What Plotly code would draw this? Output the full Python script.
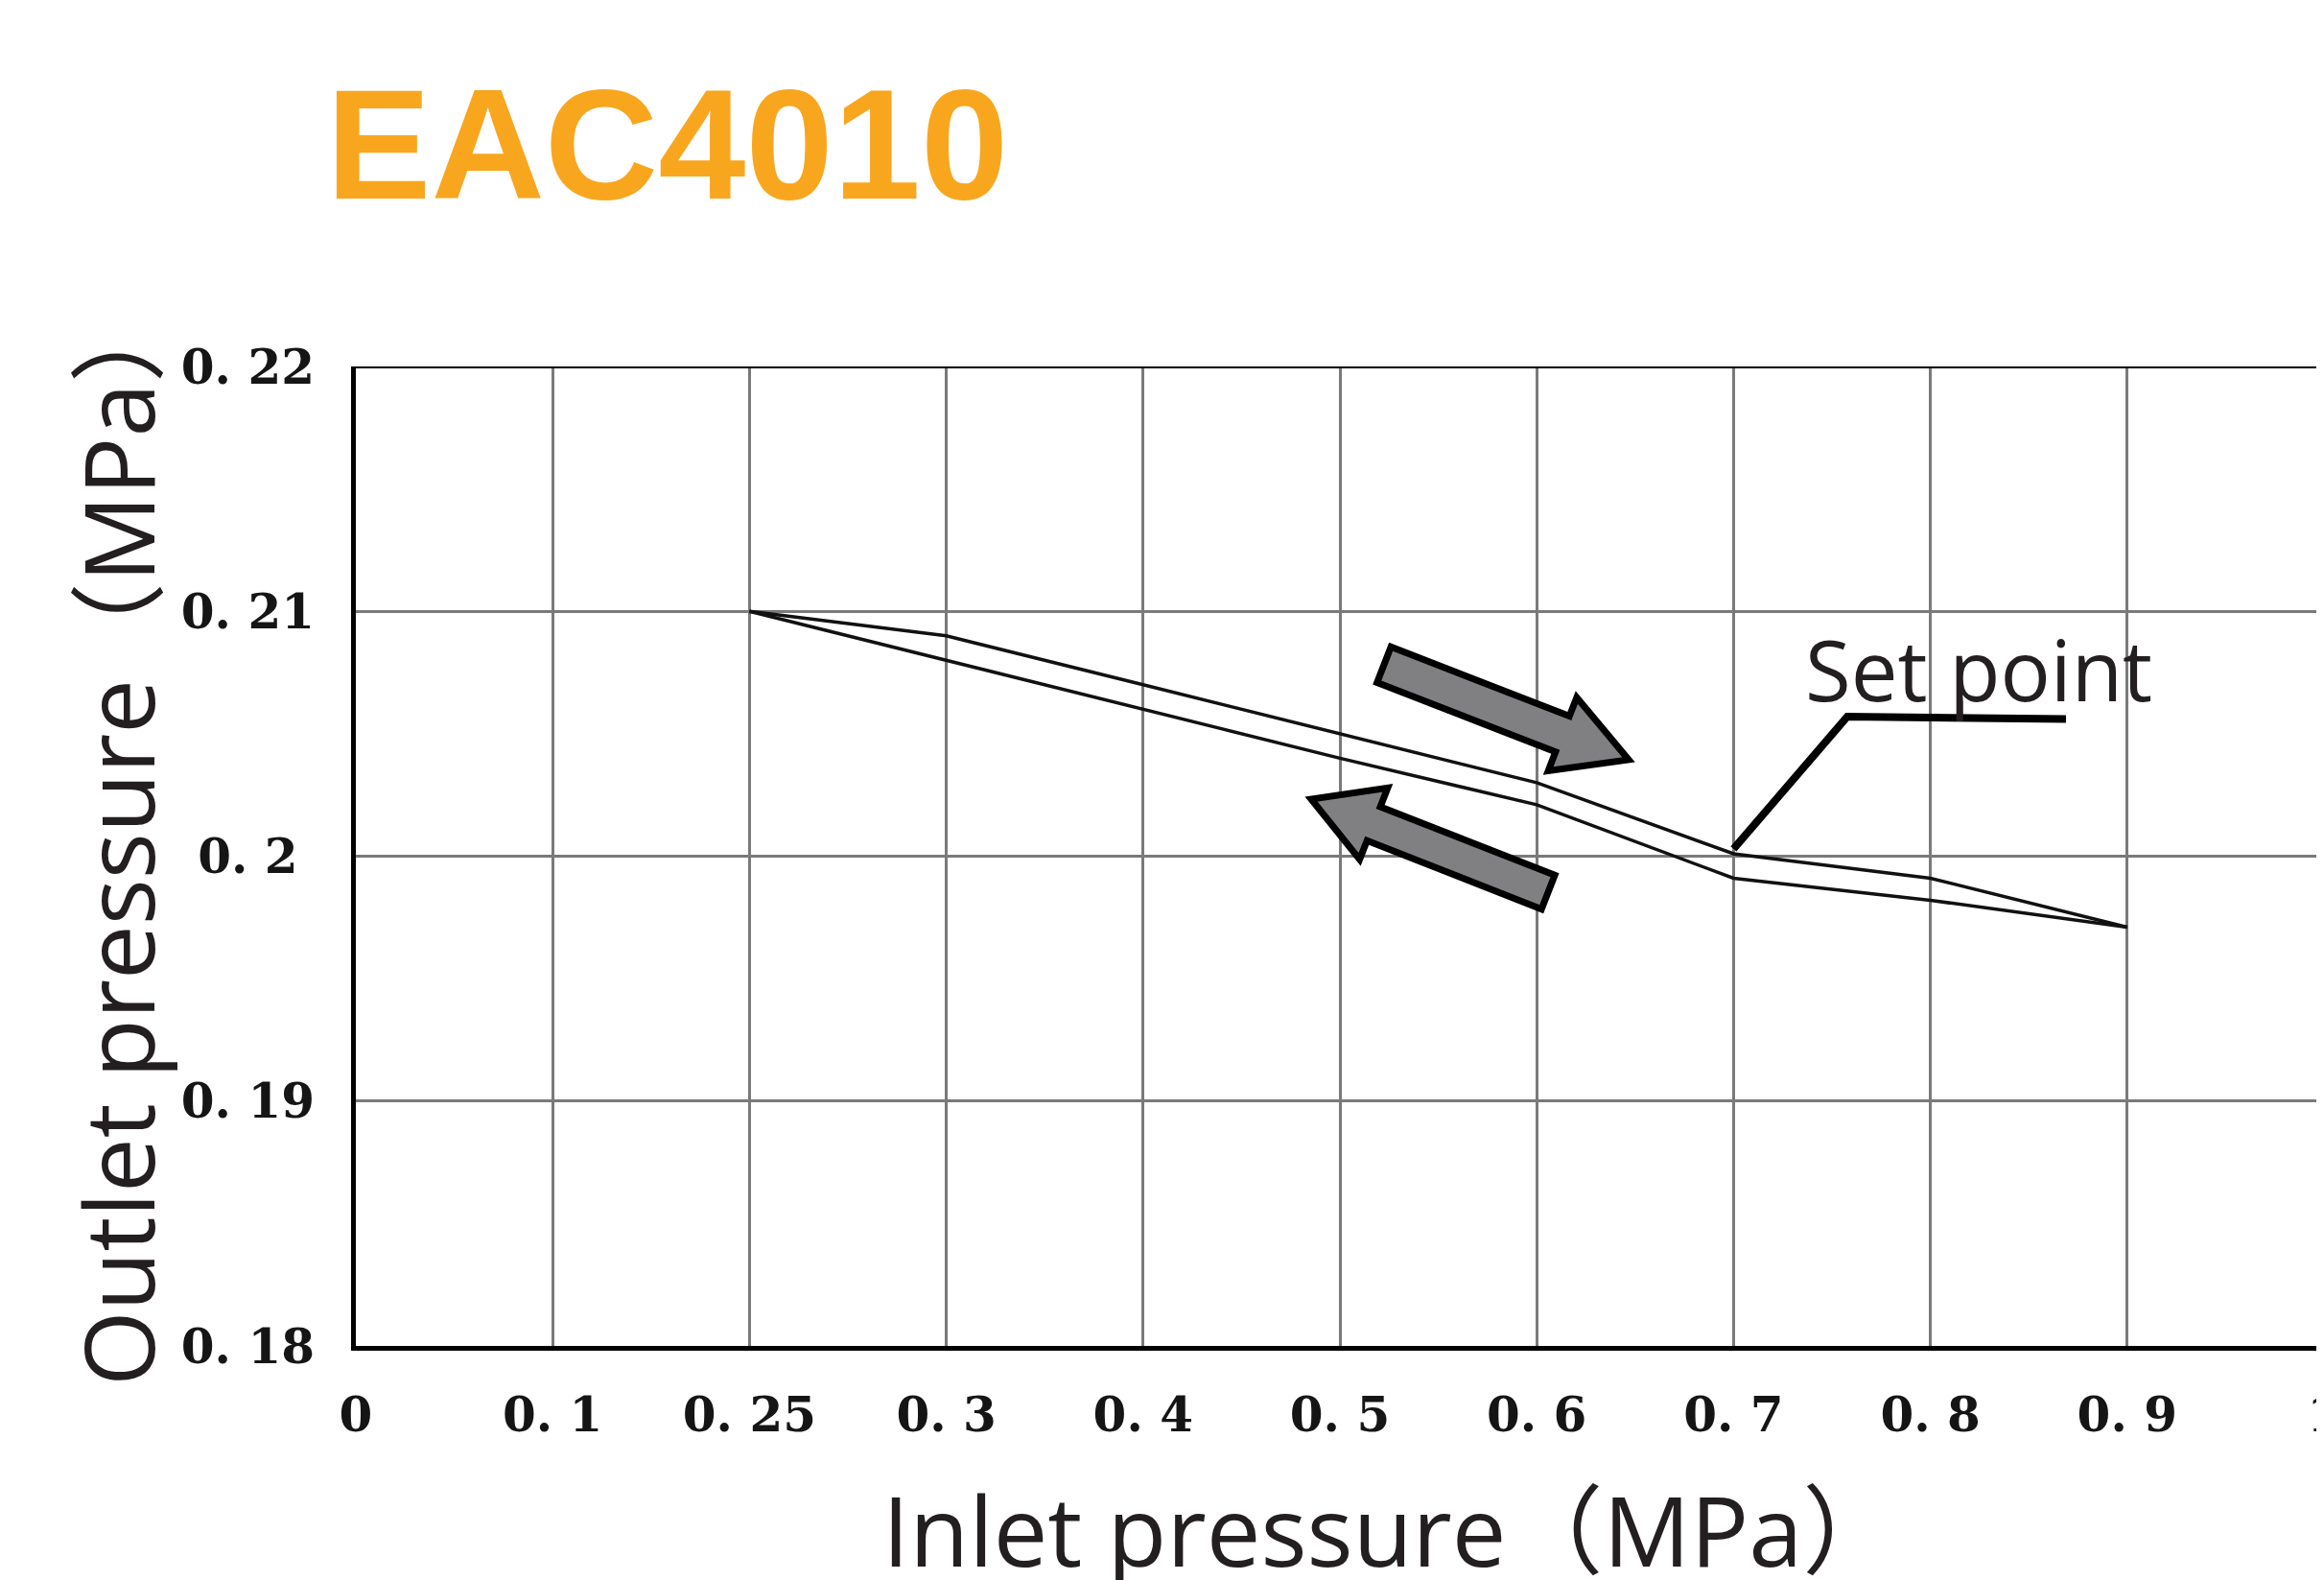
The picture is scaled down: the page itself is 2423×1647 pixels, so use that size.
import numpy as np
import plotly.graph_objects as go

# ---------------- data ----------------
x_tick_values = [0, 0.1, 0.25, 0.3, 0.4, 0.5, 0.6, 0.7, 0.8, 0.9, 1.0]
x_tick_labels = ["0", "0. 1", "0. 25", "0. 3", "0. 4", "0. 5", "0. 6", "0. 7", "0. 8", "0. 9", "1"]
y_tick_values = [0.18, 0.19, 0.20, 0.21, 0.22]
y_tick_labels = ["0. 18", "0. 19", "0. 2\u00a0", "0. 21", "0. 22"]

inlet_pressure = [0.25, 0.3, 0.4, 0.5, 0.6, 0.7, 0.8, 0.9]
outlet_rising = [0.2100, 0.2090, 0.2070, 0.2050, 0.2030, 0.2001, 0.1991, 0.1971]
outlet_falling = [0.2100, 0.2080, 0.2060, 0.2040, 0.2021, 0.1991, 0.1982, 0.1971]

set_point = (0.7, 0.2003)

# ---------------- layout geometry (absolute page pixels) ----------------
W, H = 2423, 1647
OFF = 8                      # default body margin of the page
PL, PT, PR, PB = 371, 382, 2423, 1403
FW, FH = W - OFF, H - OFF
X_RANGE = [0, 10]
Y_RANGE = [0.18, 0.22]
PW, PH = PR - PL, PB - PT


def xpos(v):
    """inlet pressure value -> position on the equally spaced tick scale"""
    return np.interp(v, x_tick_values, np.arange(len(x_tick_values)))


def to_px(x, y):
    return (PL + (x - X_RANGE[0]) / (X_RANGE[1] - X_RANGE[0]) * PW,
            PT + (Y_RANGE[1] - y) / (Y_RANGE[1] - Y_RANGE[0]) * PH)


def to_data(px, py):
    return (X_RANGE[0] + (px - PL) / PW * (X_RANGE[1] - X_RANGE[0]),
            Y_RANGE[1] - (py - PT) / PH * (Y_RANGE[1] - Y_RANGE[0]))


def paper_x(px):
    return (px - PL) / PW


def paper_y(py):
    return (PB - py) / PH


def block_arrow(tail, tip, w, hw, hl):
    tx, ty = to_px(*tail)
    hx, hy = to_px(*tip)
    d = np.array([hx - tx, hy - ty])
    u = d / np.linalg.norm(d)
    n = np.array([-u[1], u[0]])
    T = np.array([tx, ty])
    Hh = np.array([hx, hy])
    B = Hh - u * hl
    pts = [T + n * w, B + n * w, B + n * hw, Hh, B - n * hw, B - n * w, T - n * w]
    dpts = [to_data(*p) for p in pts]
    return "M " + " L ".join(f"{a},{b}" for a, b in dpts) + " Z"


xp = xpos(inlet_pressure)

fig = go.Figure()
line_style = dict(color="#111111", width=3.5)
fig.add_trace(go.Scatter(x=xp, y=outlet_rising, mode="lines", line=line_style,
                         name="Rising", showlegend=False, hoverinfo="skip"))
fig.add_trace(go.Scatter(x=xp, y=outlet_falling, mode="lines", line=line_style,
                         name="Falling", showlegend=False, hoverinfo="skip"))

tick_font = dict(family="DejaVu Serif", size=50, color="#151515", weight="bold")
grid_color = "#7a7a7a"

fig.update_layout(
    width=FW, height=FH, template="none",
    margin=dict(l=PL - OFF, r=(FW - (PR - OFF)), t=PT - OFF, b=FH - (PB - OFF), pad=0),
    paper_bgcolor="white", plot_bgcolor="white",
    showlegend=False,
    xaxis=dict(range=X_RANGE, tickmode="array", tickvals=list(range(len(x_tick_values))),
               ticktext=x_tick_labels, tickfont=tick_font, showgrid=True,
               gridcolor=grid_color, gridwidth=2.5, showline=True, linecolor="black",
               linewidth=5, zeroline=False, ticks="", ticklabelstandoff=24,
               ticklabeloverflow="allow", automargin=False, fixedrange=True),
    yaxis=dict(range=Y_RANGE, tickmode="array", tickvals=y_tick_values,
               ticktext=y_tick_labels, tickfont=tick_font, showgrid=True,
               gridcolor=grid_color, gridwidth=2.5, showline=True, linecolor="black",
               linewidth=5, zeroline=False, ticks="", ticklabelstandoff=28,
               ticklabeloverflow="allow", automargin=False, fixedrange=True),
)

# top border
fig.add_shape(type="line", xref="paper", yref="y", x0=0, x1=1, y0=Y_RANGE[1], y1=Y_RANGE[1],
              line=dict(color="black", width=4))

# direction arrows
arrow_style = dict(fillcolor="#808083", line=dict(color="black", width=7), layer="above")
fig.add_shape(type="path", xref="x", yref="y",
              path=block_arrow((5.224, 0.20782), (6.467, 0.20394), 20, 41, 74), **arrow_style)
fig.add_shape(type="path", xref="x", yref="y",
              path=block_arrow((6.058, 0.19853), (4.854, 0.20233), 19, 40, 70), **arrow_style)

# set point leader
sx, sy = xpos(set_point[0]), set_point[1]
fig.add_shape(type="path", xref="x", yref="y",
              path=f"M {sx},{sy} L 7.578,0.2057 L 8.689,0.2056",
              line=dict(color="black", width=8))

fig.add_annotation(text="Set point", x=8.246, y=0.20766, xref="x", yref="y",
                   showarrow=False, xanchor="center", yanchor="middle",
                   font=dict(family="Open Sans", size=87, color="#231f20"))

# titles
fig.add_annotation(text="EAC4010", xref="paper", yref="paper", x=paper_x(338), y=paper_y(151),
                   xanchor="left", yanchor="middle", showarrow=False,
                   font=dict(family="Liberation Sans", size=164, color="#F9A61F", weight="bold"))
fig.add_annotation(text="Inlet pressure（MPa）", xref="paper", yref="paper",
                   x=paper_x(1450), y=paper_y(1594), xanchor="center", yanchor="middle",
                   showarrow=False,
                   font=dict(family="Open Sans, Noto Sans CJK SC", size=101, color="#231f20"))
fig.add_annotation(text="Outlet pressure（MPa）", xref="paper", yref="paper",
                   x=paper_x(122), y=paper_y(872), xanchor="center", yanchor="middle",
                   textangle=-90, showarrow=False,
                   font=dict(family="Open Sans, Noto Sans CJK SC", size=101, color="#231f20"))

fig.write_html("out.html")
